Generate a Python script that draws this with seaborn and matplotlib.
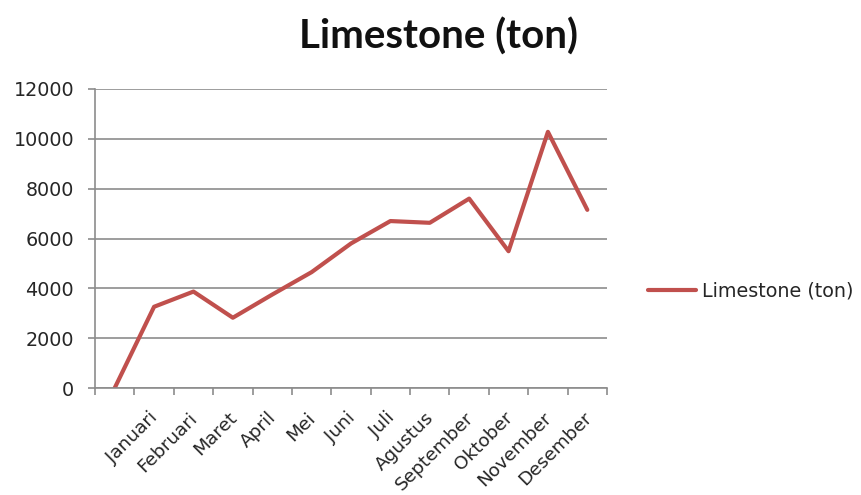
import matplotlib
matplotlib.use("Agg")
import matplotlib.pyplot as plt
import matplotlib.transforms as mtransforms
import seaborn as sns
import pandas as pd
import numpy as np
from matplotlib.ticker import FixedLocator

bulan = ["", "Januari", "Februari", "Maret", "April", "Mei", "Juni", "Juli",
         "Agustus", "September", "Oktober", "November", "Desember"]
limestone = [0, 3260, 3870, 2820, 3750, 4650, 5800, 6700, 6630, 7600, 5490, 10280, 7150]
y_ticks = [0, 2000, 4000, 6000, 8000, 10000, 12000]
series_name = "Limestone (ton)"

sns.set_theme(style="white")
plt.rcParams["font.family"] = ["DejaVu Sans"]

df = pd.DataFrame({"bulan": bulan, "ton": limestone, "seri": series_name})

fig = plt.figure(figsize=(8.61, 4.95), dpi=100)
ax = fig.add_axes([95/861, 1-388/495, (607-95)/861, (388-89)/495])

sns.lineplot(data=df, x=np.arange(len(bulan)), y="ton", hue="seri", sort=False,
             palette=["#C0504D"], linewidth=3.0, ax=ax, legend=True)

ax.set_xlim(-0.5, len(bulan) - 0.5)
ax.set_ylim(0, 12000)
ax.set_yticks(y_ticks)
ax.set_yticklabels([str(v) for v in y_ticks], fontsize=13.8, color="#262626")
ax.yaxis.grid(True, color="#8c8c8c", linewidth=1.2)
ax.set_axisbelow(True)

ax.set_xticks(np.arange(len(bulan)))
ax.set_xticklabels(bulan, rotation=45, ha="right", va="top", rotation_mode="anchor",
                   fontsize=13.3, color="#262626")
ax.tick_params(axis="x", which="major", length=0, pad=15)
ax.xaxis.set_minor_locator(FixedLocator(np.arange(-0.5, len(bulan), 1.0)))
ax.tick_params(axis="x", which="minor", length=5, color="#8c8c8c", width=1.2, bottom=True)
ax.tick_params(axis="y", length=5, color="#8c8c8c", width=1.2, left=True, pad=10)
offset = mtransforms.ScaledTranslation(-5/100, 0, fig.dpi_scale_trans)
for lbl in ax.get_xticklabels():
    lbl.set_transform(lbl.get_transform() + offset)

for s in ["top", "right"]:
    ax.spines[s].set_visible(False)
for s in ["left", "bottom"]:
    ax.spines[s].set_color("#8c8c8c")
    ax.spines[s].set_linewidth(1.2)

ax.set_xlabel("")
ax.set_ylabel("")

leg = ax.legend(loc="center left", bbox_to_anchor=(640/861, 1-291/495),
                bbox_transform=fig.transFigure, frameon=False, fontsize=13.8,
                handlelength=2.5, handletextpad=0.35, borderaxespad=0)

fig.text(438/861, 1-37/495, "Limestone (ton)", ha="center", va="center",
         fontsize=29, fontweight="bold", color="#111111", family=["Lato", "DejaVu Sans"])

fig.savefig("out.png", dpi=100, facecolor="white")
